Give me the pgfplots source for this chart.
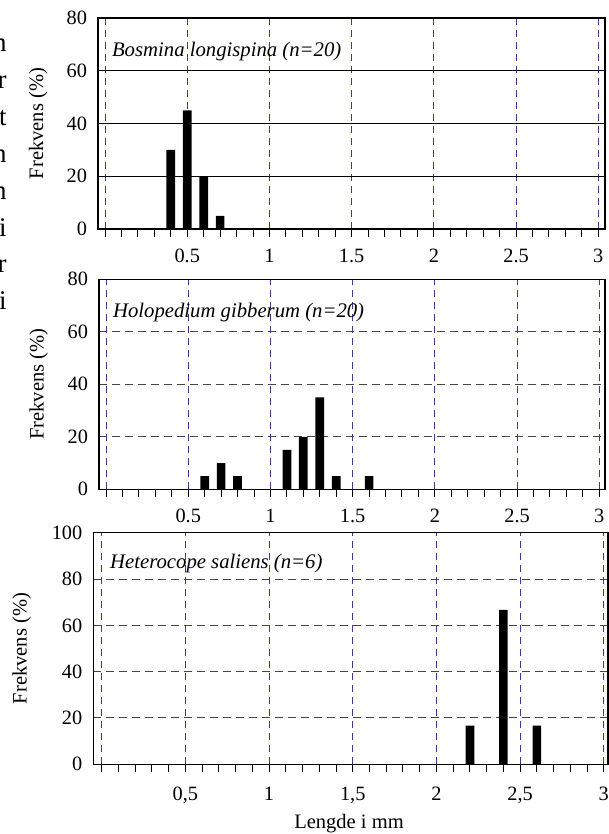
\documentclass[border=0pt]{standalone}
\usepackage{fontspec}
\setmainfont{Liberation Serif}
\usepackage{pgfplots}
\pgfplotsset{compat=1.18}
\definecolor{gridblue}{RGB}{60,60,150}
\definecolor{griddark}{RGB}{70,70,70}

\tikzset{titletext/.style={anchor=west, inner sep=0, font=\itshape\fontsize{10.4}{12}\selectfont}}

\pgfplotsset{
  hist/.style={
    scale only axis,
    anchor=north west,
    axis line style={black, line width=0.6bp},
    xtick={0,0.5,1,1.5,2,2.5,3},
    minor x tick num=4,
    xtick pos=bottom, xtick align=inside,
    major tick length=3.8bp, minor tick length=3.8bp,
    xtick style={black, line width=0.5bp},
    ytick style={draw=none},
    xmajorgrids, ymajorgrids,
    major x grid style={gridblue, line width=0.5bp, dash pattern=on 3.5bp off 2.5bp},
    tick label style={font=\fontsize{10.2}{12}\selectfont},
    yticklabel style={xshift=-2bp},
    xticklabel style={yshift=-2.5bp},
    ylabel={Frekvens (\%)},
    label style={font=\fontsize{10.3}{12}\selectfont},
    ybar, bar width=4.35bp, bar shift=0pt,
    ymin=0,
    /pgf/number format/assume math mode=true,
  },
}

\begin{document}
\begin{tikzpicture}
\useasboundingbox (0,0) rectangle (304.5bp,-417bp);

% cut-off ends of the surrounding body text
\foreach \l/\y in {n/25.75, r/44.2, t/62.65, n/81.1, n/99.55, i/118, r/136.45, i/154.9}
  \node[anchor=base east, inner sep=0, font=\fontsize{13.5}{16}\selectfont] at (3.5bp,-\y bp) {\l};

% Bosmina
\begin{axis}[hist,
  at={(49bp,-9bp)}, width=253.5bp, height=105.5bp,
  xmin=-0.043, xmax=3.041, ymax=80,
  ytick={0,20,40,60,80},
  xticklabels={{},0.5,1,1.5,2,2.5,3},
  major y grid style={black, line width=0.5bp},
  ylabel style={at={(axis description cs:-0.118,0.5)}, anchor=center},
]
\addplot[fill=black, draw=none] coordinates {(0.4,30) (0.5,45) (0.6,20) (0.7,5)};
\node[titletext] at (rel axis cs:0.027,0.84) {Bosmina longispina (n=20)};
\end{axis}

% Holopedium
\begin{axis}[hist,
  at={(49.5bp,-139.65bp)}, width=253bp, height=105bp,
  xmin=-0.043, xmax=3.035, ymax=80,
  ytick={0,20,40,60,80},
  xticklabels={{},0.5,1,1.5,2,2.5,3},
  major y grid style={griddark, line width=0.5bp, dash pattern=on 4bp off 2.5bp},
  ylabel style={at={(axis description cs:-0.119,0.5)}, anchor=center},
]
\addplot[fill=black, draw=none] coordinates {(0.6,5) (0.7,10) (0.8,5) (1.1,15) (1.2,20) (1.3,35) (1.4,5) (1.6,5)};
\node[titletext] at (rel axis cs:0.027,0.84) {Holopedium gibberum (n=20)};
\end{axis}

% Heterocope
\begin{axis}[hist,
  at={(46.65bp,-266.35bp)}, width=257.35bp, height=115.8bp,
  xmin=-0.05, xmax=3.025, ymax=100,
  ytick={0,20,40,60,80,100},
  xticklabels={{},{0,5},1,{1,5},2,{2,5},3},
  xticklabel style={yshift=-1.5bp},
  major y grid style={griddark, line width=0.5bp, dash pattern=on 4bp off 2.5bp},
  ylabel style={at={(axis description cs:-0.139,0.5)}, anchor=center},
]
\addplot[fill=black, draw=none] coordinates {(2.2,16.7) (2.4,66.7) (2.6,16.7)};
\node[titletext] at (rel axis cs:0.032,0.868) {Heterocope saliens (n=6)};
\end{axis}

\node[anchor=base, font=\fontsize{10.3}{12}\selectfont] at (174.5bp,-414bp) {Lengde i mm};
\end{tikzpicture}
\end{document}
